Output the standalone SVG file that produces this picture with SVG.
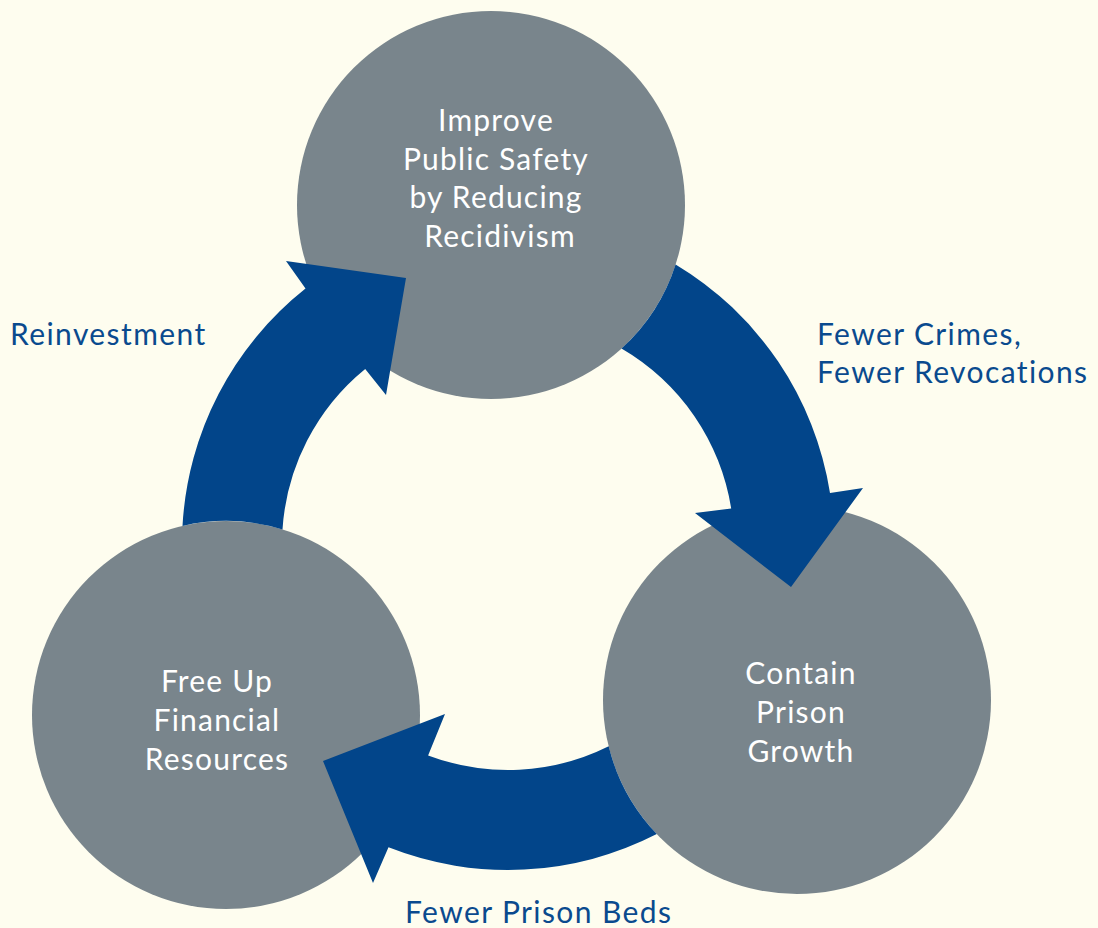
<svg xmlns="http://www.w3.org/2000/svg" width="1098" height="928" viewBox="0 0 1098 928">
  <style>
    .node { fill: #79858C; }
    .arrow { fill: #02458A; }
    .ntext { font-family: Lato, "Open Sans", "Liberation Sans", sans-serif; font-size: 30px; letter-spacing: 1.2px; fill: #FFFFFF; text-anchor: middle; }
    .label { font-family: Lato, "Open Sans", "Liberation Sans", sans-serif; font-size: 30px; letter-spacing: 1.4px; fill: #0A4A8E; }
  </style>
  <rect width="1098" height="928" fill="#FEFDEF"/>
  <g id="node-top">
    <circle class="node" cx="491" cy="205" r="194"/>
    <text class="ntext" x="496" y="131">Improve</text>
    <text class="ntext" x="496" y="170">Public Safety</text>
    <text class="ntext" x="496" y="208">by Reducing</text>
    <text class="ntext" x="500" y="247">Recidivism</text>
  </g>
  <g id="node-right">
    <circle class="node" cx="797" cy="700" r="194"/>
    <text class="ntext" x="801" y="684">Contain</text>
    <text class="ntext" x="801" y="723">Prison</text>
    <text class="ntext" x="801" y="762">Growth</text>
  </g>
  <g id="node-left">
    <circle class="node" cx="226" cy="715" r="194"/>
    <text class="ntext" x="217" y="692">Free Up</text>
    <text class="ntext" x="217" y="731">Financial</text>
    <text class="ntext" x="217" y="770">Resources</text>
  </g>
  <g id="connectors">
    <path class="arrow" d="M182.5,525.9 A326,326 0 0 1 305.5,288.5 L286,261 L406,278 L386,395 L365.2,368.9 A226,226 0 0 0 282.5,529.4 A194,194 0 0 0 182.5,525.9 Z"/>
    <path class="arrow" d="M675.6,264.4 A326,326 0 0 1 830,493 L863,488 L791,587 L695,513 L731.2,508.6 A226,226 0 0 0 621.5,348.5 A194,194 0 0 0 675.6,264.4 Z"/>
    <path class="arrow" d="M656.8,834.1 A326,326 0 0 1 388.5,847.3 L373,883 L323,761 L445,714 L428.1,755.4 A226,226 0 0 0 608.7,746.3 A194,194 0 0 0 656.8,834.1 Z"/>
    <text class="label" x="10" y="345">Reinvestment</text>
    <text class="label" x="817" y="345">Fewer Crimes,</text>
    <text class="label" x="817" y="383">Fewer Revocations</text>
    <text class="label" x="405" y="923">Fewer Prison Beds</text>
  </g>
</svg>
